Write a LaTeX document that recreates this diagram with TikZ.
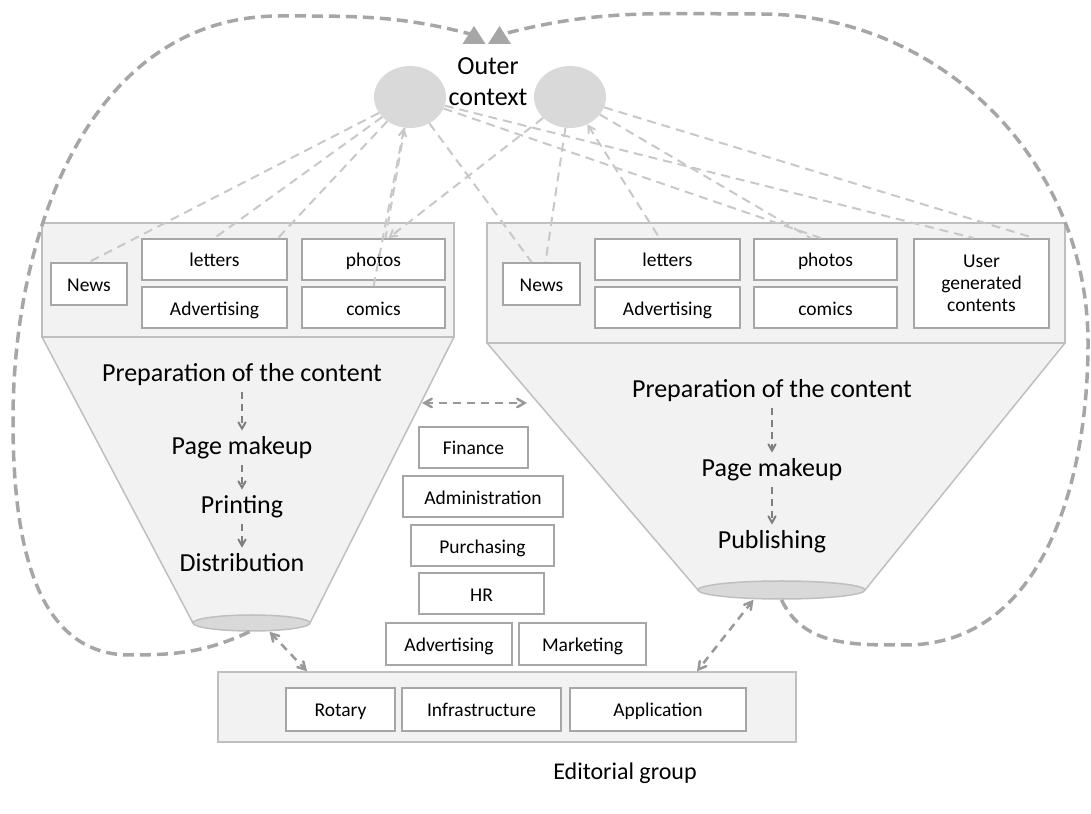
\documentclass[tikz,border=0pt]{standalone}
\usepackage{fontspec}
\setmainfont{Carlito}
\usetikzlibrary{shapes,arrows}
\definecolor{panelfill}{HTML}{F2F2F2}
\definecolor{panelline}{HTML}{BFBFBF}
\definecolor{boxline}{HTML}{A6A6A6}
\definecolor{blobfill}{HTML}{D9D9D9}
\definecolor{linklight}{HTML}{C8C8C8}
\definecolor{loopgray}{HTML}{A6A6A6}
\definecolor{flowgray}{HTML}{7F7F7F}
\definecolor{dblgray}{HTML}{999999}
\tikzstyle{panel} = [draw=panelline, fill=panelfill, line width=1.5pt, inner sep=0pt]
\tikzstyle{funnel} = [draw=panelline, fill=panelfill, line width=1.5pt]
\tikzstyle{neck} = [ellipse, draw=panelline, fill=blobfill, line width=1.5pt, inner sep=0pt]
\tikzstyle{item} = [draw=boxline, fill=white, line width=2pt, inner sep=0pt, minimum height=41pt, text height=16.5pt, text depth=1.5pt, font=\fontsize{19.5}{22}\selectfont]
\tikzstyle{stage} = [inner sep=6pt, font=\fontsize{26}{31}\selectfont]
\tikzstyle{ctxblob} = [ellipse, fill=blobfill, minimum width=72pt, minimum height=62pt, inner sep=0pt]
\tikzstyle{ctxlink} = [draw=linklight, line width=2pt, dash pattern=on 9pt off 6pt, >=angle 60]
\tikzstyle{backloop} = [draw=loopgray, line width=3.5pt, dash pattern=on 11pt off 6pt]
\tikzstyle{flow} = [->, >=angle 60, draw=flowgray, line width=2pt, dash pattern=on 7pt off 5pt]
\tikzstyle{dbl} = [<->, >=angle 60, draw=dblgray, line width=2.5pt, dash pattern=on 8pt off 6pt]

\begin{document}
\begin{tikzpicture}[x=1pt,y=1pt]
\useasboundingbox (0,0) rectangle (1091,813);

% funnels and panels
\filldraw[funnel] (42,476) -- (193,190) -- (310,190) -- (454,476);
\filldraw[funnel] (487,470) -- (698,223) -- (865,223) -- (1065,470);
\node[panel, minimum width=412pt, minimum height=114pt] (lpanel) at (248,533) {};
\node[panel, minimum width=578pt, minimum height=120pt] (rpanel) at (776,530) {};
\node[neck, minimum width=117pt, minimum height=16pt] (lneck) at (251.5,190) {};
\node[neck, minimum width=167pt, minimum height=18pt] (rneck) at (781.5,223) {};

% print side
\node[item, minimum width=76pt, minimum height=42pt] (lnews) at (89,529) {News};
\node[item, minimum width=145pt] (lletters) at (214.5,553.5) {letters};
\node[item, minimum width=145pt, below of=lletters, node distance=48.5pt] (ladv) {Advertising};
\node[item, minimum width=143pt] (lphotos) at (373.5,553.5) {photos};
\node[item, minimum width=143pt, below of=lphotos, node distance=48.5pt] (lcomics) {comics};

\node[stage] (lprep) at (242,438) {Preparation of the content};
\node[stage, below of=lprep, node distance=73pt] (lpage) {Page makeup};
\node[stage, below of=lpage, node distance=59pt] (lprint) {Printing};
\node[stage, below of=lprint, node distance=56pt] (ldist) {Distribution};

% online side
\node[item, minimum width=77pt, minimum height=42pt] (rnews) at (541.5,529) {News};
\node[item, minimum width=145pt] (rletters) at (667.5,553.5) {letters};
\node[item, minimum width=145pt, below of=rletters, node distance=48.5pt] (radv) {Advertising};
\node[item, minimum width=143pt] (rphotos) at (825.5,553.5) {photos};
\node[item, minimum width=143pt, below of=rphotos, node distance=48.5pt] (rcomics) {comics};
\node[item, minimum width=135pt, minimum height=89pt, text height=, text depth=, align=center] (ruser) at (981.5,529.5) {User\\generated\\contents};

\node[stage] (rprep) at (772,422) {Preparation of the content};
\node[stage, below of=rprep, node distance=79pt] (rpage) {Page makeup};
\node[stage, below of=rpage, node distance=72pt] (rpub) {Publishing};

% support functions
\node[item, minimum width=109pt] (fin) at (473.5,365.5) {Finance};
\node[item, minimum width=160pt, below of=fin, node distance=49.5pt, xshift=9.5pt] (adm) {Administration};
\node[item, minimum width=143pt, below of=adm, node distance=49pt, xshift=-0.5pt] (pur) {Purchasing};
\node[item, minimum width=125pt, below of=pur, node distance=48pt, xshift=-1pt] (hr) {HR};
\node[item, minimum width=126pt, minimum height=42pt] (adv) at (449,169) {Advertising};
\node[item, minimum width=127pt, minimum height=42pt, right of=adv, node distance=133.5pt] (mkt) {Marketing};

% infrastructure
\node[panel, minimum width=578pt, minimum height=70pt] (bpanel) at (507,106) {};
\node[item, minimum width=109pt, minimum height=43pt] (rotary) at (340.5,103.5) {Rotary};
\node[item, minimum width=159pt, minimum height=43pt, right of=rotary, node distance=141pt] (infra) {Infrastructure};
\node[item, minimum width=176pt, minimum height=43pt, right of=infra, node distance=176.5pt] (app) {Application};
\node[font=\fontsize{24}{28}\selectfont] (group) at (625,40) {Editorial group};

% outer context
\node[ctxblob] (ctxl) at (410,716) {};
\node[ctxblob] (ctxr) at (570,716) {};
\node[align=center, font=\fontsize{26}{31}\selectfont] (outer) at (488,731) {Outer\\context};

\draw[ctxlink] (ctxl) -- (lnews.north);
\draw[ctxlink] (ctxl) -- (lletters.north);
\draw[ctxlink] (ctxl) -- ([xshift=-10pt]lletters.north east);
\draw[ctxlink] (ctxl) -- ([xshift=12pt]lphotos.north);
\draw[ctxlink, <-] (ctxl) -- (lcomics.north);
\draw[ctxlink, ->] (ctxr) -- ([xshift=15pt]lphotos.north);
\draw[ctxlink] (ctxl) -- ([xshift=-10pt]rnews.north);
\draw[ctxlink] (ctxr) -- ([xshift=4pt]rnews.north);
\draw[ctxlink, <-] (ctxr) -- ([xshift=-8pt]rletters.north);
\draw[ctxlink] (ctxr) -- ([xshift=-15pt]rphotos.north);
\draw[ctxlink] (ctxl) -- ([xshift=-5pt]rphotos.north);
\draw[ctxlink] (ctxl) -- ([xshift=-8pt]ruser.north);
\draw[ctxlink] (ctxr) -- ([xshift=-16pt]ruser.north east);

% feedback loops
\coordinate (tipl) at (474,778);
\coordinate (tipr) at (499.5,778);
\draw[backloop] ([xshift=-2pt]lneck.south) to[out=205,in=0] (130,158) to[out=180,in=-90] (13,393)
  to[out=90,in=180] (280,797) to[out=0,in=165] (tipl);
\draw[backloop] (rneck.south) to[out=-65,in=180] (905,168) to[out=0,in=-90] (1088,470)
  to[out=90,in=0] (760,799) to[out=180,in=15] (tipr);
\fill[loopgray] (tipl) ++(-11.5,-9) -- ++(23,0) -- ++(-11.5,18) -- cycle;
\fill[loopgray] (tipr) ++(-11.5,-9) -- ++(23,0) -- ++(-11.5,18) -- cycle;

% process steps
\draw[flow] (lprep) -- (lpage);
\draw[flow] (lpage) -- (lprint);
\draw[flow] (lprint) -- (ldist);
\draw[flow] (rprep) -- (rpage);
\draw[flow] (rpage) -- (rpub);

% exchanges
\coordinate (lside) at (422,410);
\coordinate (rside) at (527,410);
\draw[dbl] (lside) -- (rside);
\draw[dbl] ([xshift=18pt]lneck.south) -- ([xshift=-200pt]bpanel.north);
\draw[dbl] ([xshift=-28pt]rneck.south) -- ([xshift=190pt]bpanel.north);

\end{tikzpicture}
\end{document}
